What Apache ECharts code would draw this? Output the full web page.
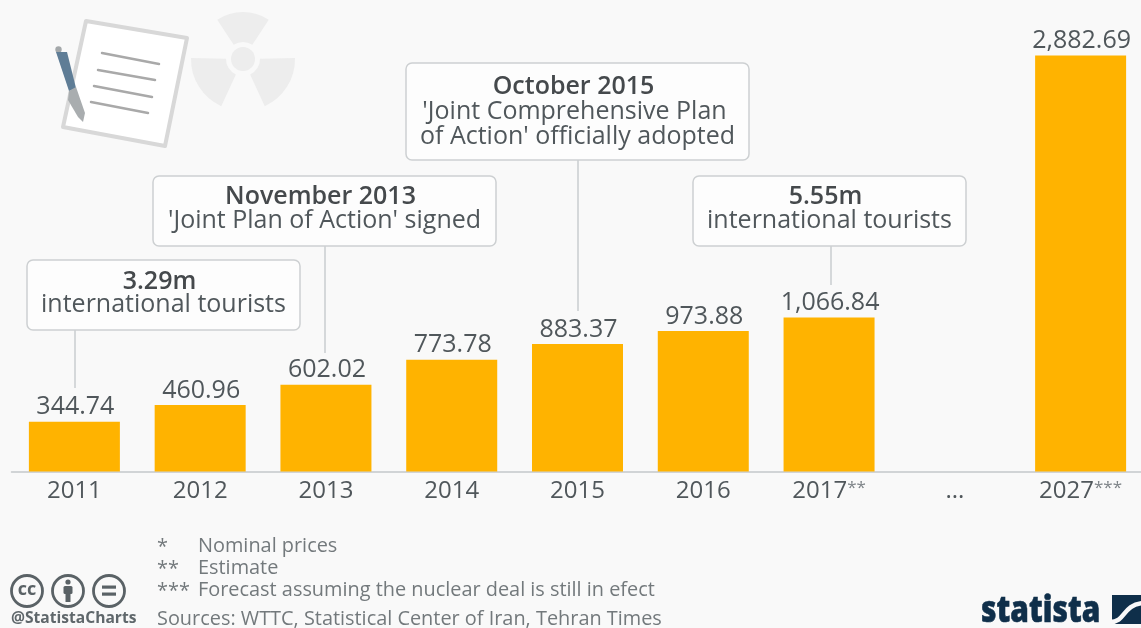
<!DOCTYPE html>
<html><head><meta charset="utf-8">
<style>html,body{margin:0;padding:0;background:#f9f9f9}#c{width:1141px;height:628px}</style>
<script src="https://cdn.jsdelivr.net/npm/echarts@6/dist/echarts.min.js"></script></head>
<body><div id="c"></div>
<script>
const categories = ['2011','2012','2013','2014','2015','2016','2017**','...','2027***'];
const values = [344.74,460.96,602.02,773.78,883.37,973.88,1066.84,null,2882.69];
const labelTexts = ['344.74','460.96','602.02','773.78','883.37','973.88','1,066.84','','2,882.69'];
const footnotes = ['*','**','***'];
const footnoteTexts = ['Nominal prices','Estimate','Forecast assuming the nuclear deal is still in efect'];
const sources = 'Sources: WTTC, Statistical Center of Iran, Tehran Times';
const callouts = [
  {bold:'3.29m', lines:['international tourists'], x:27,y:260,w:273,h:70, lx:75, ly2:388, by:22, ty:45},
  {bold:'November 2013', lines:["'Joint Plan of Action' signed"], x:153,y:176,w:343,h:70, lx:325, ly2:353, by:21, ty:45},
  {bold:'October 2015', lines:["'Joint Comprehensive Plan","of Action' officially adopted"], x:406,y:63,w:343,h:97, lx:578, ly2:311, by:24, ty:49},
  {bold:'5.55m', lines:['international tourists'], x:693,y:176,w:273,h:70, lx:831, ly2:285, by:21, ty:45}
];
const FONT = '"Open Sans"';
const TXT = '#50575b';
const FOOT = '#73797c';
const chart = echarts.init(document.getElementById('c'), null, {renderer:'canvas'});
const g = [];
callouts.forEach(c=>{
  g.push({type:'line',z:5,shape:{x1:c.lx,y1:c.y+c.h,x2:c.lx,y2:c.ly2},style:{stroke:'#c9cdcf',lineWidth:1.5}});
  g.push({type:'rect',z:6,shape:{x:c.x,y:c.y,width:c.w,height:c.h,r:6},style:{fill:'#fdfdfd',stroke:'#cdd0d2',lineWidth:1.5}});
  const cx = c.x+c.w/2;
  g.push({type:'text',z:7,style:{text:c.bold,x:cx-4,y:c.y+c.by,align:'center',verticalAlign:'middle',font:'600 25px '+FONT,fill:'#45494c'}});
  c.lines.forEach((t,i)=>g.push({type:'text',z:7,style:{text:t,x:cx-(c.lines.length>1&&i===0?3:0),y:c.y+c.ty+i*24.5,align:'center',verticalAlign:'middle',font:'25px '+FONT,fill:TXT}}));
});
const fy=[546,568,590];
footnotes.forEach((s,i)=>{
  g.push({type:'text',style:{text:s,x:157,y:fy[i]+1,verticalAlign:'middle',font:'19.9px '+FONT,fill:FOOT}});
  g.push({type:'text',style:{text:footnoteTexts[i],x:198,y:fy[i],verticalAlign:'middle',font:'19.9px '+FONT,fill:FOOT}});
});
g.push({type:'text',style:{text:sources,x:157,y:619,verticalAlign:'middle',font:'19.9px '+FONT,fill:FOOT}});
g.push({type:'text',style:{text:'@StatistaCharts',x:11,y:619,verticalAlign:'middle',font:'700 15.6px '+FONT,fill:'#5f676b'}});
// licence icons
[27,68,109].forEach(x=>{
  g.push({type:'circle',shape:{cx:x,cy:591,r:15.5},style:{fill:'none',stroke:'#5a6266',lineWidth:2.8}});
});
g.push({type:'text',style:{text:'cc',x:27,y:590,align:'center',verticalAlign:'middle',font:'700 18px '+FONT,fill:'#5a6266'}});
g.push({type:'circle',shape:{cx:68,cy:582,r:2.6},style:{fill:'#5a6266'}});
g.push({type:'rect',shape:{x:63.5,y:586,width:9,height:8,r:1.5},style:{fill:'#5a6266'}});
g.push({type:'rect',shape:{x:65.5,y:593,width:5,height:9},style:{fill:'#5a6266'}});
g.push({type:'rect',shape:{x:102,y:585.5,width:14,height:3.2},style:{fill:'#5a6266'}});
g.push({type:'rect',shape:{x:102,y:592.5,width:14,height:3.2},style:{fill:'#5a6266'}});
// statista logo
g.push({type:'group',x:981,y:611,scaleX:0.81,children:[
  {type:'text',style:{text:'statista',x:0,y:0,verticalAlign:'middle',font:'800 37px "Open Sans"',fill:'#0f2f4a',stroke:'#0f2f4a',lineWidth:0.6}}
]});
g.push({type:'rect',shape:{x:1112,y:595,width:29,height:29},style:{fill:'#0f2f4a'}});
g.push({type:'bezierCurve',shape:{x1:1110,y1:622,cpx1:1126,cpy1:622,cpx2:1122,cpy2:605,x2:1143,y2:603},style:{fill:'none',stroke:'#f9f9f9',lineWidth:4.5}});
// radiation icon
const RC='#ededed';
[[-90,47],[32,52],[148,52]].forEach(([a,rad])=>{
  const r=a*Math.PI/180;
  g.push({type:'sector',shape:{cx:243,cy:59,r0:17,r:rad,startAngle:r-0.58,endAngle:r+0.58},style:{fill:RC}});
});
g.push({type:'circle',shape:{cx:243,cy:59,r:12},style:{fill:RC}});
// document icon
g.push({type:'polygon',shape:{points:[[86,21],[187,38],[165,146],[63,127]]},style:{fill:'#ffffff',stroke:'#d8d8d8',lineWidth:4,lineJoin:'round'}});
[[[102,53],[159,64]],[[98,70],[155,80]],[[94,86],[152,97]],[[91,102],[148,113]]].forEach(([a,b])=>{
  g.push({type:'line',shape:{x1:a[0],y1:a[1],x2:b[0],y2:b[1]},style:{stroke:'#a9a9a9',lineWidth:2.5,lineCap:'round'}});
});
// pen
g.push({type:'circle',shape:{cx:58.5,cy:49.5,r:3.2},style:{fill:'#a4a8aa'}});
g.push({type:'polygon',shape:{points:[[56,52],[67,52],[76,88],[69,91]]},style:{fill:'#5f7d96'}});
g.push({type:'polygon',shape:{points:[[69,91],[76,87],[85,113],[83,122],[78,117],[68,100]]},style:{fill:'#a9adaf'}});
chart.setOption({
  animation:false,
  backgroundColor:'#f9f9f9',
  textStyle:{fontFamily:FONT},
  grid:{left:11.5,width:1132,top:38.6,height:432.9,containLabel:false,outerBoundsMode:'none'},
  xAxis:{type:'category',data:categories,
    axisLine:{lineStyle:{color:'#c4c8ca',width:1.5}},axisTick:{show:false},
    axisLabel:{interval:0,fontSize:24,color:TXT,margin:8,fontFamily:FONT,
      formatter:v=>{const m=v.match(/^(.*?)(\*+)$/);return m?m[1]+'{s|'+m[2]+'}':v;},
      rich:{s:{fontSize:17,color:'#7d8387',fontFamily:FONT,verticalAlign:'top',padding:[0,0,6,0]}}}},
  yAxis:{type:'value',min:0,max:3000,show:false,splitLine:{show:false}},
  series:[{type:'bar',data:values,barWidth:91,itemStyle:{color:'#ffb300'},
    label:{show:true,position:'top',distance:2,offset:[1,0],fontSize:25,color:TXT,fontFamily:FONT,
      formatter:p=>labelTexts[p.dataIndex]}}],
  graphic:{elements:g}
});
</script></body></html>
